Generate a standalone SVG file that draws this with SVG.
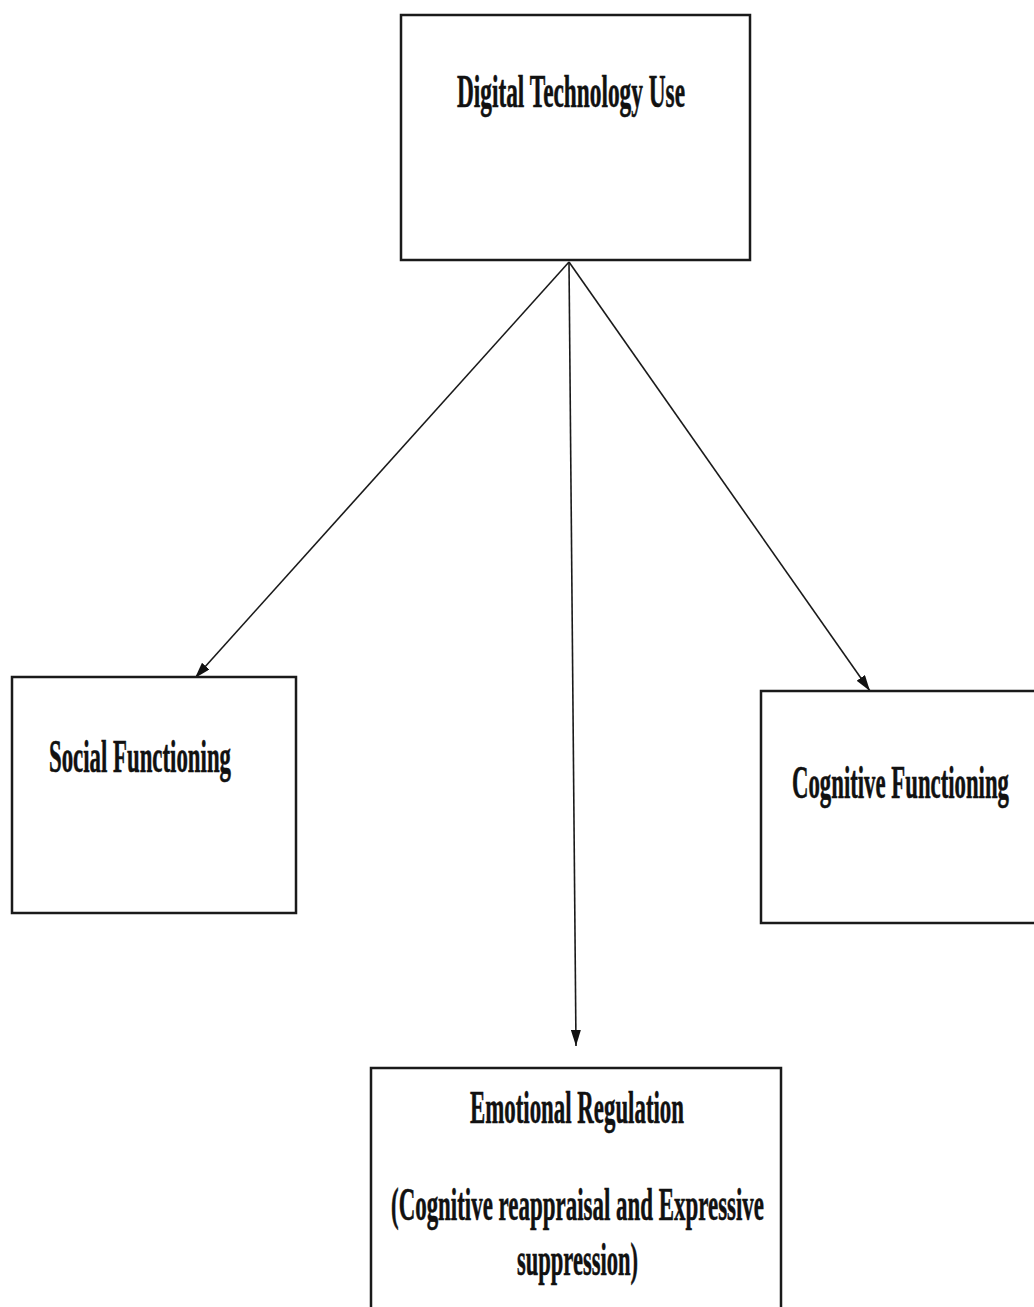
<svg xmlns="http://www.w3.org/2000/svg" width="1034" height="1307" viewBox="0 0 1034 1307">
<style>
.box{fill:#fff;stroke:#1a1a1a;stroke-width:2.5}
.lbl{font-family:"Liberation Serif","Times New Roman",serif;font-weight:bold;font-size:47px;fill:#111;stroke:#111;stroke-width:0.6}
.edge{stroke:#1a1a1a;stroke-width:1.6;fill:none;marker-end:url(#ah)}
</style>
<defs>
<marker id="ah" viewBox="0 0 16 10" refX="16" refY="5" markerWidth="16" markerHeight="10" markerUnits="userSpaceOnUse" orient="auto">
<path d="M0,0 L16,5 L0,10 Z" fill="#111"/>
</marker>
</defs>
<rect width="1034" height="1307" fill="#fff"/>
<g id="connectors">
<line class="edge" x1="569" y1="262" x2="195" y2="678"/>
<line class="edge" x1="569" y1="262" x2="576" y2="1046"/>
<line class="edge" x1="569" y1="262" x2="870" y2="691"/>
</g>
<g id="digital">
<rect class="box" x="401" y="15" width="349" height="245"/>
<text class="lbl" transform="scale(0.5,1)" x="914" y="107" textLength="456" lengthAdjust="spacingAndGlyphs">Digital Technology Use</text>
</g>
<g id="social">
<rect class="box" x="12" y="677" width="284" height="236"/>
<text class="lbl" transform="scale(0.5,1)" x="98" y="772" textLength="364" lengthAdjust="spacingAndGlyphs">Social Functioning</text>
</g>
<g id="cognitive">
<rect class="box" x="761" y="691" width="290" height="232"/>
<text class="lbl" transform="scale(0.5,1)" x="1584" y="798" textLength="434" lengthAdjust="spacingAndGlyphs">Cognitive Functioning</text>
</g>
<g id="emotional">
<rect class="box" x="371" y="1068" width="410" height="260"/>
<text class="lbl" transform="scale(0.5,1)" x="940" y="1123" textLength="428" lengthAdjust="spacingAndGlyphs">Emotional Regulation</text>
<text class="lbl" transform="scale(0.5,1)" x="782" y="1220" textLength="746" lengthAdjust="spacingAndGlyphs">(Cognitive reappraisal and Expressive</text>
<text class="lbl" transform="scale(0.5,1)" x="1034" y="1275" textLength="242" lengthAdjust="spacingAndGlyphs">suppression)</text>
</g>
</svg>
